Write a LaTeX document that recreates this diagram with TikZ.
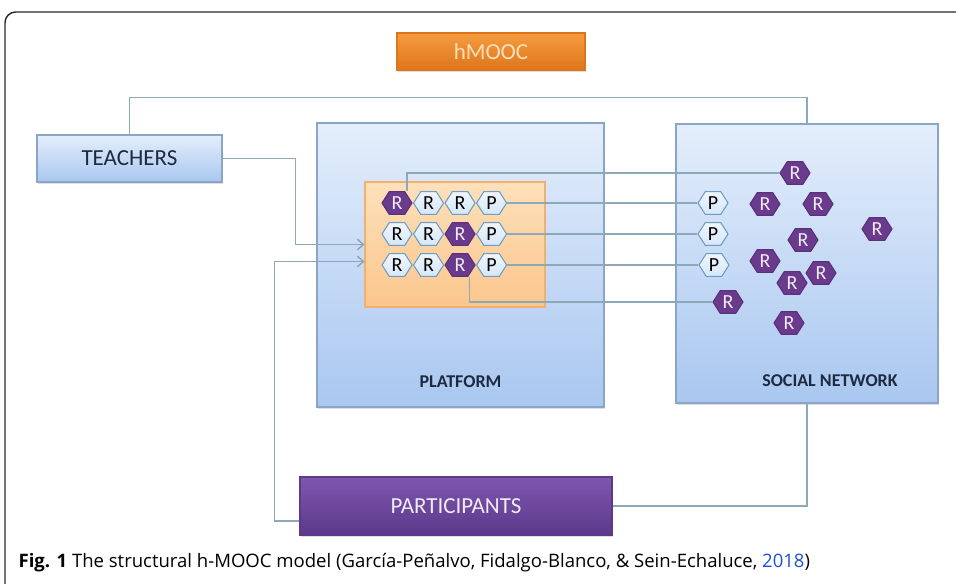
\documentclass[tikz,border=0pt]{standalone}
\usepackage{fontspec}
\setmainfont{Carlito}
\newfontfamily\capfont{Open Sans}
\usetikzlibrary{arrows.meta, positioning, shapes.symbols, calc, shadows}
\definecolor{cframe}{HTML}{2A2A2A}
\definecolor{clink}{HTML}{8CA8B9}
\definecolor{cpaneltop}{HTML}{E4EEFB}
\definecolor{cpanelbot}{HTML}{A9C7F0}
\definecolor{cpaneldraw}{HTML}{8AA5C6}
\definecolor{corangetop}{HTML}{F59C40}
\definecolor{corangebot}{HTML}{DE751B}
\definecolor{cpeachtop}{HTML}{FDE0BA}
\definecolor{cpeachbot}{HTML}{FBC68C}
\definecolor{cpeachdraw}{HTML}{F2B06E}
\definecolor{cpurpletop}{HTML}{7E56AF}
\definecolor{cpurplebot}{HTML}{5C398B}
\definecolor{chexr}{HTML}{6A3A8D}
\definecolor{chexp}{HTML}{D6E7F8}
\definecolor{chexpdraw}{HTML}{6F9CC3}
\definecolor{cnavy}{HTML}{1E2A40}
\definecolor{cyear}{HTML}{1F4FD8}
\tikzset{
  every picture/.style={font=\rmfamily, line width=1pt},
  frame/.style={draw=cframe, line width=1.1pt, rounded corners=8pt},
  link/.style={draw=clink, line width=1.1pt},
  arrow/.style={link, -{Straight Barb[length=4.5pt, width=8pt]}},
  panel/.style={draw=cpaneldraw, top color=cpaneltop, bottom color=cpanelbot, line width=0.8pt,
    drop shadow={opacity=0.25, shadow xshift=1pt, shadow yshift=-1.2pt}},
  boxlabel/.style={font=\fontsize{17.25}{19}\selectfont, inner sep=0pt},
  paneltext/.style={font=\fontsize{13.5}{15}\selectfont\bfseries, text=cnavy, inner sep=0pt},
  hexbase/.style={signal, signal to=east and west, signal pointer angle=115, inner sep=0pt,
    minimum width=22.5pt, minimum height=17pt, line width=0.8pt, font=\fontsize{15}{16}\selectfont},
  hexr/.style={hexbase, draw=chexr!85!black, fill=chexr, text=white!90!chexr},
  hexp/.style={hexbase, draw=chexpdraw, top color=white!60!chexp, bottom color=chexp, text=black},
}

\begin{document}
\begin{tikzpicture}[x=0.75pt, y=-0.75pt]
  \useasboundingbox (0,0) rectangle (956,583);
  \draw[frame] (975,12) -- (5,12) -- (5,600);

  \node[boxlabel, draw=corangebot, top color=corangetop, bottom color=corangebot, text=cpeachtop,
    minimum width=141pt, minimum height=27.75pt,
    drop shadow={opacity=0.25, shadow xshift=1pt, shadow yshift=-1.2pt}] (hmooc) at (491,51.5) {hMOOC};
  \node[panel, boxlabel, text=cnavy, minimum width=138.75pt, minimum height=35.25pt] (teachers) at (129.5,158.5) {TEACHERS};
  \node[panel, minimum width=215.25pt, minimum height=213pt] (plat) at (460.5,265) {};
  \node[panel, minimum width=196.5pt, minimum height=209.25pt] (sn) at (807,263.5) {};
  \node[paneltext, anchor=base] (platlabel) at ($(plat.south)+(0,-20)$) {PLATFORM};
  \node[paneltext, anchor=base] (snlabel) at ($(sn.south)+(23,-17)$) {SOCIAL NETWORK};
  \node[draw=cpeachdraw, top color=cpeachtop, bottom color=cpeachbot, line width=0.8pt,
    minimum width=135pt, minimum height=93.75pt] (orange) at (455,244.5) {};
  \node[boxlabel, draw=cpurplebot, top color=cpurpletop, bottom color=cpurplebot, text=white!88!cpurpletop,
    minimum width=234pt, minimum height=43.5pt,
    drop shadow={opacity=0.25, shadow xshift=1pt, shadow yshift=-1.2pt}] (part) at (456,506) {PARTICIPANTS};

  \node[hexr] (o11) at (397,203) {R};
  \node[hexp, right=0.2pt of o11] (o12) {R};
  \node[hexp, right=0.2pt of o12] (o13) {R};
  \node[hexp, right=0.2pt of o13] (o14) {P};
  \node[hexp] (o21) at (397,234) {R};
  \node[hexp, right=0.2pt of o21] (o22) {R};
  \node[hexr, right=0.2pt of o22] (o23) {R};
  \node[hexp, right=0.2pt of o23] (o24) {P};
  \node[hexp] (o31) at (397,265) {R};
  \node[hexp, right=0.2pt of o31] (o32) {R};
  \node[hexr, right=0.2pt of o32] (o33) {R};
  \node[hexp, right=0.2pt of o33] (o34) {P};

  \node[hexp] (sp1) at (713,203) {P};
  \node[hexp] (sp2) at (713,234) {P};
  \node[hexp] (sp3) at (714,265) {P};
  \foreach \n/\x/\y in {1/795/173, 2/765/204, 3/818/204, 4/877/229, 5/803/240,
                        6/765/261, 7/821/273, 8/792/283, 9/728/302, 10/789/323}
    \node[hexr] (sr\n) at (\x,\y) {R};

  \draw[link] (teachers.north) -- ++(0,-37) -| (sn.north);
  \draw[arrow] (teachers.east) -- ++(73,0) |- (orange.west);
  \draw[arrow] ([yshift=-11.25pt]part.west) -- ++(-25,0) |- ($(orange.west)+(0,17)$);
  \draw[link] (sn.south) |- (part.east);
  \draw[link] ([xshift=7.5pt]o11.north) |- (sr1.west);
  \draw[link] (o14.east) -- (sp1.west);
  \draw[link] (o24.east) -- (sp2.west);
  \draw[link] (o34.east) -- (sp3.west);
  \draw[link] ([xshift=7pt]o33.south) |- (sr9.west);

  \node[anchor=base west, inner sep=0pt, font=\capfont\fontsize{13.9}{15}\selectfont] (caption) at (18,567)
    {\textbf{Fig. 1} The structural h-MOOC model (García-Peñalvo, Fidalgo-Blanco, \& Sein-Echaluce, \textcolor{cyear}{2018})};
\end{tikzpicture}
\end{document}
